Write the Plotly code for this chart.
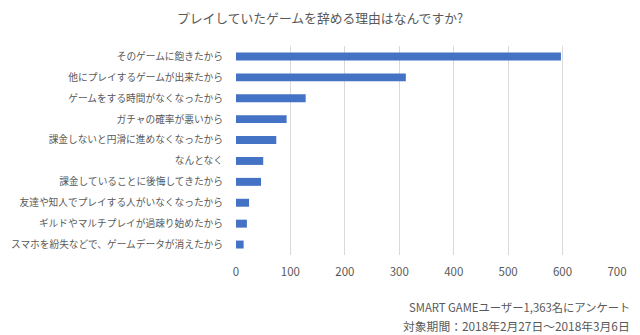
import plotly.graph_objects as go

categories = [
    "そのゲームに飽きたから",
    "他にプレイするゲームが出来たから",
    "ゲームをする時間がなくなったから",
    "ガチャの確率が悪いから",
    "課金しないと円滑に進めなくなったから",
    "なんとなく",
    "課金していることに後悔してきたから",
    "友達や知人でプレイする人がいなくなったから",
    "ギルドやマルチプレイが過疎り始めたから",
    "スマホを紛失などで、ゲームデータが消えたから",
]
values = [597, 312, 128, 93, 74, 50, 46, 24, 20, 14]
tick_vals = [0, 100, 200, 300, 400, 500, 600, 700]

font_family = "Noto Sans CJK JP, Noto Sans, sans-serif"
gray = "#595959"

fig = go.Figure(go.Bar(
    y=categories,
    x=values,
    orientation="h",
    marker=dict(color="#4472C4", line=dict(width=0)),
    width=0.38,
))

fig.update_layout(
    width=640, height=335,
    margin=dict(l=236, r=23, t=46, b=80, autoexpand=False),
    paper_bgcolor="white", plot_bgcolor="white",
    font=dict(family=font_family, size=12, color=gray),
    showlegend=False,
    title=dict(text="プレイしていたゲームを辞める理由はなんですか?", x=0.5, xanchor="center",
               y=1 - 19 / 335, yanchor="middle", font=dict(size=12.8, color=gray, family=font_family)),
    xaxis=dict(range=[0, 700], tickvals=tick_vals, showgrid=True, gridcolor="#d9d9d9",
               gridwidth=1, zeroline=False, showline=False, ticks="", ticklabelstandoff=8,
               automargin=False, tickfont=dict(size=11.5, color=gray)),
    yaxis=dict(autorange="reversed", showgrid=False, zeroline=False, showline=False,
               ticks="", ticklabelstandoff=12, automargin=False,
               tickfont=dict(size=9.7, color=gray)),
    annotations=[
        dict(text="SMART GAMEユーザー1,363名にアンケート", xref="paper", yref="paper",
             x=(632 - 236) / 381, y=-(307 - 255) / 209, xanchor="right", yanchor="middle",
             showarrow=False, font=dict(size=11.3, color=gray)),
        dict(text="対象期間：2018年2月27日～2018年3月6日", xref="paper", yref="paper",
             x=(632 - 236) / 381, y=-(325 - 255) / 209, xanchor="right", yanchor="middle",
             showarrow=False, font=dict(size=11.8, color=gray)),
    ],
)

fig.write_html("out.html")
